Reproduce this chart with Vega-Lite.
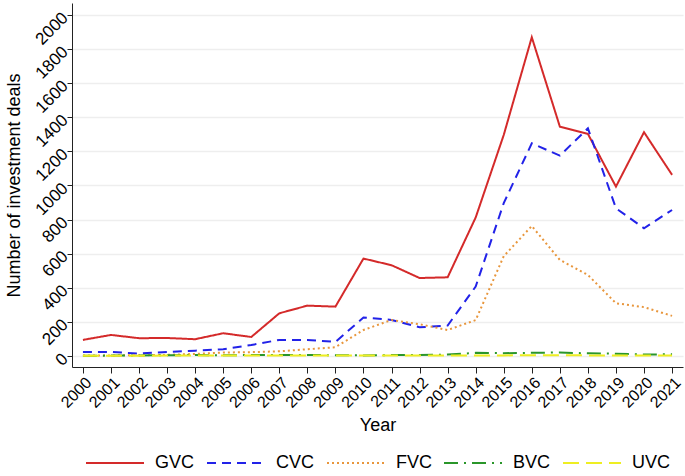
{
  "$schema": "https://vega.github.io/schema/vega-lite/v6.json",
  "autosize": {"type": "none"},
  "width": 611,
  "height": 364,
  "padding": {"left": 72, "top": 3, "right": 2, "bottom": 109},
  "background": "white",
  "config": {
    "view": {"stroke": null},
    "font": "Liberation Sans",
    "axis": {
      "domainColor": "#222222",
      "tickColor": "#222222",
      "labelColor": "#000000",
      "titleColor": "#000000",
      "titleFontWeight": "normal",
      "labelFont": "Liberation Sans",
      "titleFont": "Liberation Sans"
    }
  },
  "data": {
    "values": [
      {"year": 2000, "type": "GVC", "deals": 94},
      {"year": 2001, "type": "GVC", "deals": 123},
      {"year": 2002, "type": "GVC", "deals": 104},
      {"year": 2003, "type": "GVC", "deals": 105},
      {"year": 2004, "type": "GVC", "deals": 98},
      {"year": 2005, "type": "GVC", "deals": 133},
      {"year": 2006, "type": "GVC", "deals": 111},
      {"year": 2007, "type": "GVC", "deals": 250},
      {"year": 2008, "type": "GVC", "deals": 295},
      {"year": 2009, "type": "GVC", "deals": 289},
      {"year": 2010, "type": "GVC", "deals": 571},
      {"year": 2011, "type": "GVC", "deals": 532},
      {"year": 2012, "type": "GVC", "deals": 457},
      {"year": 2013, "type": "GVC", "deals": 461},
      {"year": 2014, "type": "GVC", "deals": 812},
      {"year": 2015, "type": "GVC", "deals": 1296},
      {"year": 2016, "type": "GVC", "deals": 1869},
      {"year": 2017, "type": "GVC", "deals": 1345},
      {"year": 2018, "type": "GVC", "deals": 1302},
      {"year": 2019, "type": "GVC", "deals": 993},
      {"year": 2020, "type": "GVC", "deals": 1312},
      {"year": 2021, "type": "GVC", "deals": 1062},
      {"year": 2000, "type": "CVC", "deals": 23},
      {"year": 2001, "type": "CVC", "deals": 23},
      {"year": 2002, "type": "CVC", "deals": 14},
      {"year": 2003, "type": "CVC", "deals": 23},
      {"year": 2004, "type": "CVC", "deals": 31},
      {"year": 2005, "type": "CVC", "deals": 39},
      {"year": 2006, "type": "CVC", "deals": 64},
      {"year": 2007, "type": "CVC", "deals": 94},
      {"year": 2008, "type": "CVC", "deals": 94},
      {"year": 2009, "type": "CVC", "deals": 82},
      {"year": 2010, "type": "CVC", "deals": 225},
      {"year": 2011, "type": "CVC", "deals": 211},
      {"year": 2012, "type": "CVC", "deals": 168},
      {"year": 2013, "type": "CVC", "deals": 178},
      {"year": 2014, "type": "CVC", "deals": 407},
      {"year": 2015, "type": "CVC", "deals": 896},
      {"year": 2016, "type": "CVC", "deals": 1247},
      {"year": 2017, "type": "CVC", "deals": 1175},
      {"year": 2018, "type": "CVC", "deals": 1335},
      {"year": 2019, "type": "CVC", "deals": 866},
      {"year": 2020, "type": "CVC", "deals": 749},
      {"year": 2021, "type": "CVC", "deals": 856},
      {"year": 2000, "type": "FVC", "deals": 2},
      {"year": 2001, "type": "FVC", "deals": 3},
      {"year": 2002, "type": "FVC", "deals": 4},
      {"year": 2003, "type": "FVC", "deals": 6},
      {"year": 2004, "type": "FVC", "deals": 12},
      {"year": 2005, "type": "FVC", "deals": 20},
      {"year": 2006, "type": "FVC", "deals": 22},
      {"year": 2007, "type": "FVC", "deals": 27},
      {"year": 2008, "type": "FVC", "deals": 39},
      {"year": 2009, "type": "FVC", "deals": 51},
      {"year": 2010, "type": "FVC", "deals": 152},
      {"year": 2011, "type": "FVC", "deals": 211},
      {"year": 2012, "type": "FVC", "deals": 186},
      {"year": 2013, "type": "FVC", "deals": 152},
      {"year": 2014, "type": "FVC", "deals": 210},
      {"year": 2015, "type": "FVC", "deals": 585},
      {"year": 2016, "type": "FVC", "deals": 762},
      {"year": 2017, "type": "FVC", "deals": 563},
      {"year": 2018, "type": "FVC", "deals": 475},
      {"year": 2019, "type": "FVC", "deals": 309},
      {"year": 2020, "type": "FVC", "deals": 286},
      {"year": 2021, "type": "FVC", "deals": 235},
      {"year": 2000, "type": "BVC", "deals": 1},
      {"year": 2001, "type": "BVC", "deals": 2},
      {"year": 2002, "type": "BVC", "deals": 3},
      {"year": 2003, "type": "BVC", "deals": 4},
      {"year": 2004, "type": "BVC", "deals": 5},
      {"year": 2005, "type": "BVC", "deals": 4},
      {"year": 2006, "type": "BVC", "deals": 5},
      {"year": 2007, "type": "BVC", "deals": 5},
      {"year": 2008, "type": "BVC", "deals": 6},
      {"year": 2009, "type": "BVC", "deals": 4},
      {"year": 2010, "type": "BVC", "deals": 3},
      {"year": 2011, "type": "BVC", "deals": 5},
      {"year": 2012, "type": "BVC", "deals": 6},
      {"year": 2013, "type": "BVC", "deals": 8},
      {"year": 2014, "type": "BVC", "deals": 18},
      {"year": 2015, "type": "BVC", "deals": 16},
      {"year": 2016, "type": "BVC", "deals": 18},
      {"year": 2017, "type": "BVC", "deals": 20},
      {"year": 2018, "type": "BVC", "deals": 15},
      {"year": 2019, "type": "BVC", "deals": 13},
      {"year": 2020, "type": "BVC", "deals": 8},
      {"year": 2021, "type": "BVC", "deals": 10},
      {"year": 2000, "type": "UVC", "deals": 1},
      {"year": 2001, "type": "UVC", "deals": 1},
      {"year": 2002, "type": "UVC", "deals": 1},
      {"year": 2003, "type": "UVC", "deals": 2},
      {"year": 2004, "type": "UVC", "deals": 2},
      {"year": 2005, "type": "UVC", "deals": 2},
      {"year": 2006, "type": "UVC", "deals": 2},
      {"year": 2007, "type": "UVC", "deals": 2},
      {"year": 2008, "type": "UVC", "deals": 2},
      {"year": 2009, "type": "UVC", "deals": 2},
      {"year": 2010, "type": "UVC", "deals": 2},
      {"year": 2011, "type": "UVC", "deals": 2},
      {"year": 2012, "type": "UVC", "deals": 2},
      {"year": 2013, "type": "UVC", "deals": 3},
      {"year": 2014, "type": "UVC", "deals": 3},
      {"year": 2015, "type": "UVC", "deals": 3},
      {"year": 2016, "type": "UVC", "deals": 4},
      {"year": 2017, "type": "UVC", "deals": 4},
      {"year": 2018, "type": "UVC", "deals": 3},
      {"year": 2019, "type": "UVC", "deals": 3},
      {"year": 2020, "type": "UVC", "deals": 3},
      {"year": 2021, "type": "UVC", "deals": 3}
    ]
  },
  "mark": {"type": "line", "strokeWidth": 2, "clip": true},
  "encoding": {
    "x": {
      "field": "year",
      "type": "quantitative",
      "scale": {"domain": [1999.61, 2021.39], "nice": false, "zero": false},
      "axis": {
        "title": "Year",
        "titleFontSize": 18,
        "titlePadding": 6,
        "values": [2000, 2001, 2002, 2003, 2004, 2005, 2006, 2007, 2008, 2009, 2010, 2011, 2012, 2013, 2014, 2015, 2016, 2017, 2018, 2019, 2020, 2021],
        "format": "d",
        "labelAngle": -45,
        "labelAlign": "right",
        "labelBaseline": "top",
        "labelFontSize": 16,
        "labelOverlap": false,
        "labelPadding": 1,
        "tickSize": 6,
        "grid": false
      }
    },
    "y": {
      "field": "deals",
      "type": "quantitative",
      "scale": {"domain": [-65, 2070], "nice": false, "zero": false},
      "axis": {
        "title": "Number of investment deals",
        "titleFontSize": 18,
        "titlePadding": 8,
        "values": [0, 200, 400, 600, 800, 1000, 1200, 1400, 1600, 1800, 2000],
        "format": "d",
        "labelAngle": -45,
        "labelAlign": "right",
        "labelBaseline": "middle",
        "labelFontSize": 17,
        "labelOverlap": false,
        "labelPadding": 2,
        "tickSize": 5,
        "grid": true,
        "gridColor": "#eeeeee",
        "gridWidth": 1.5
      }
    },
    "color": {
      "field": "type",
      "type": "nominal",
      "scale": {
        "domain": ["GVC", "CVC", "FVC", "BVC", "UVC"],
        "range": ["#d42a2a", "#2222e8", "#e8963c", "#2a962a", "#eeee22"]
      },
      "legend": {
        "title": null,
        "orient": "none",
        "legendX": 13,
        "legendY": 430,
        "direction": "horizontal",
        "symbolType": "stroke",
        "symbolSize": 3364,
        "symbolStrokeWidth": 2,
        "labelFontSize": 18,
        "labelOffset": 10,
        "columnPadding": 8,
        "labelFont": "Liberation Sans",
        "labelColor": "#000000"
      }
    },
    "strokeDash": {
      "field": "type",
      "type": "nominal",
      "scale": {
        "domain": ["GVC", "CVC", "FVC", "BVC", "UVC"],
        "range": [[1, 0], [9, 6], [2, 3], [14, 6, 2, 6], [16, 7]]
      },
      "legend": {
        "title": null,
        "orient": "none",
        "legendX": 13,
        "legendY": 430,
        "direction": "horizontal",
        "symbolType": "stroke",
        "symbolSize": 3364,
        "symbolStrokeWidth": 2,
        "labelFontSize": 18,
        "labelOffset": 10,
        "columnPadding": 8,
        "labelFont": "Liberation Sans",
        "labelColor": "#000000"
      }
    }
  }
}
